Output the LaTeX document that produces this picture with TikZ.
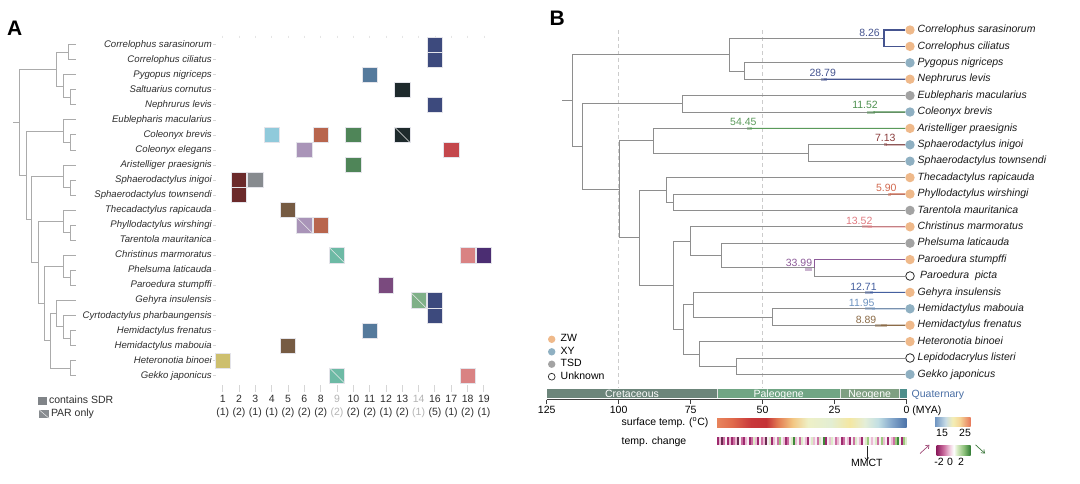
\documentclass[tikz,border=0pt]{standalone}
\usepackage{fontspec}
\setmainfont{Liberation Sans}
\usetikzlibrary{arrows.meta}
\definecolor{treeA}{HTML}{ABABAB}
\definecolor{treeB}{HTML}{8E8E8E}
\definecolor{txtA}{HTML}{2E2E2E}
\definecolor{txtB}{HTML}{1A1A1A}
\definecolor{lgray}{HTML}{B4B4B4}
\definecolor{tick}{HTML}{D6D6D6}
\definecolor{sqedge}{HTML}{E4E4EA}
% square colours
\definecolor{navy}{HTML}{3D4A7D}
\definecolor{steel}{HTML}{557A9C}
\definecolor{dark}{HTML}{1E2A2C}
\definecolor{lblue}{HTML}{90CADB}
\definecolor{orred}{HTML}{B8654D}
\definecolor{grn}{HTML}{4F8558}
\definecolor{lpurp}{HTML}{A994B8}
\definecolor{red}{HTML}{C4474C}
\definecolor{dred}{HTML}{6B2A2B}
\definecolor{gry}{HTML}{878B8F}
\definecolor{brown}{HTML}{765B43}
\definecolor{teal}{HTML}{6DBAA5}
\definecolor{pink}{HTML}{D98283}
\definecolor{dpurp}{HTML}{4B2D72}
\definecolor{purp}{HTML}{7A4A7E}
\definecolor{lgreen}{HTML}{7FB088}
\definecolor{olive}{HTML}{CDBF6E}
% tip colours
\definecolor{zw}{HTML}{EFB98A}
\definecolor{xy}{HTML}{8FB0C2}
\definecolor{tsd}{HTML}{A3A3A3}
% branch colours
\definecolor{cA}{HTML}{45548F}
\definecolor{cB}{HTML}{4E9150}
\definecolor{cC}{HTML}{5A9A5A}
\definecolor{cD}{HTML}{8B3C3C}
\definecolor{cE}{HTML}{D2694F}
\definecolor{cF}{HTML}{E07A80}
\definecolor{cG}{HTML}{8C5A98}
\definecolor{cH}{HTML}{45609F}
\definecolor{cI}{HTML}{6F94C0}
\definecolor{cJ}{HTML}{8B6B47}
% periods
\definecolor{cret}{HTML}{6C857A}
\definecolor{pale}{HTML}{70A584}
\definecolor{neog}{HTML}{7F9F82}
\definecolor{quat}{HTML}{4E8E8B}
\definecolor{quattxt}{HTML}{4A6FA5}
% stripes
\definecolor{tM}{HTML}{9E2A6E}
\definecolor{tm}{HTML}{CC6FA2}
\definecolor{tp}{HTML}{EBBCD4}
\definecolor{tw}{HTML}{F6EEF2}
\definecolor{tg}{HTML}{DCEBC8}
\definecolor{tG}{HTML}{9DC97F}
\definecolor{tD}{HTML}{3F8A3A}
\definecolor{tK}{HTML}{6B2950}
% shading stops
\definecolor{s0}{HTML}{E8845C}
\definecolor{s1}{HTML}{E06A4C}
\definecolor{s2}{HTML}{C8383A}
\definecolor{s3}{HTML}{C43236}
\definecolor{s4}{HTML}{E27A52}
\definecolor{s5}{HTML}{F3C783}
\definecolor{s6}{HTML}{EEF0C6}
\definecolor{s7}{HTML}{E3EED3}
\definecolor{s8}{HTML}{F4E7A2}
\definecolor{s9}{HTML}{E4EED8}
\definecolor{s10}{HTML}{C2DFE4}
\definecolor{s11}{HTML}{85A8CC}
\definecolor{s12}{HTML}{4B72A8}
\definecolor{l0}{HTML}{6F95C2}
\definecolor{l1}{HTML}{C9DDE6}
\definecolor{l2}{HTML}{F4EEB5}
\definecolor{l3}{HTML}{F5D596}
\definecolor{l4}{HTML}{E7775A}
\definecolor{k0}{HTML}{8E1F5F}
\definecolor{k1}{HTML}{C96A9C}
\definecolor{k2}{HTML}{F3D5E4}
\definecolor{k3}{HTML}{FFFFFF}
\definecolor{k4}{HTML}{D8EBC4}
\definecolor{k5}{HTML}{8CC07A}
\definecolor{k6}{HTML}{2F7A32}
\definecolor{arrm}{HTML}{A04A78}
\definecolor{arrg}{HTML}{3F7A3F}
\pgfdeclarehorizontalshading{sst}{100bp}{color(0bp)=(s0); color(25bp)=(s0); color(29bp)=(s1); color(34bp)=(s2); color(38bp)=(s3); color(41bp)=(s4); color(45bp)=(s5); color(49bp)=(s6); color(55bp)=(s7); color(60bp)=(s8); color(64bp)=(s9); color(67.5bp)=(s10); color(71bp)=(s11); color(75bp)=(s12); color(100bp)=(s12)}
\pgfdeclarehorizontalshading{sstleg}{100bp}{color(0bp)=(l0); color(25bp)=(l0); color(40bp)=(l1); color(50bp)=(l2); color(60bp)=(l3); color(75bp)=(l4); color(100bp)=(l4)}
\pgfdeclarehorizontalshading{chgleg}{100bp}{color(0bp)=(k0); color(25bp)=(k0); color(35bp)=(k1); color(45bp)=(k2); color(50bp)=(k3); color(55bp)=(k4); color(65bp)=(k5); color(75bp)=(k6); color(100bp)=(k6)}
\begin{document}
\begin{tikzpicture}[x=1pt,y=-1pt,
  lineA/.style={draw=treeA, line width=0.7pt},
  lineB/.style={draw=treeB, line width=0.75pt},
  spA/.style={font=\fontsize{9.6}{11}\selectfont\itshape, text=txtA, inner sep=0pt},
  spB/.style={font=\fontsize{10.5}{12}\selectfont\itshape, text=txtB, inner sep=0pt},
  lab/.style={font=\fontsize{10.5}{12}\selectfont, inner sep=0pt},
  sq/.style={rectangle, minimum size=15.3pt, inner sep=0pt, draw=sqedge, line width=0.5pt},
  tipc/.style={circle, minimum size=9.4pt, inner sep=0pt},
  legc/.style={circle, minimum size=7.4pt, inner sep=0pt},
  br/.style={line width=1.1pt},
  mk/.style={line width=3pt, opacity=0.45},
  panel/.style={font=\fontsize{21}{21}\selectfont\bfseries, inner sep=0pt, anchor=base west},
]
\useasboundingbox (0,0) rectangle (1080,483);
\fill[white] (0,0) rectangle (1080,483);

%================ PANEL A =================
\node[panel] (labA) at (7,35) {A};

% leaves
\foreach \i in {0,...,22} \coordinate (a\i) at (76,{44.5+15.05*\i});
% internal nodes
\coordinate (n01) at (68,52.0);
\coordinate (n34) at (70,97.2);
\coordinate (n234) at (63,85.9);
\coordinate (nTop) at (56,69.0);
\coordinate (n67) at (70,142.3);
\coordinate (nEub) at (63,131.0);
\coordinate (n910) at (70,187.5);
\coordinate (nAri) at (63,176.2);
\coordinate (n1213) at (70,232.6);
\coordinate (nThe) at (63,221.3);
\coordinate (n1516) at (70,277.8);
\coordinate (nChr) at (63,266.5);
\coordinate (n1920) at (70,338.0);
\coordinate (nCyr) at (63,326.7);
\coordinate (nGeh) at (56.7,313.5);
\coordinate (nHet) at (70,368.1);
\coordinate (nF) at (50,340.8);
\coordinate (nE) at (44,303.7);
\coordinate (nD) at (38,262.5);
\coordinate (nC) at (31.7,219.4);
\coordinate (nB) at (26,175.2);
\coordinate (rootA) at (19.3,122.1);
\coordinate (stubA) at (13,122.1);

\foreach \p/\c in {n01/a0,n01/a1,n34/a3,n34/a4,n234/a2,n234/n34,nTop/n01,nTop/n234,
  n67/a6,n67/a7,nEub/a5,nEub/n67,n910/a9,n910/a10,nAri/a8,nAri/n910,
  n1213/a12,n1213/a13,nThe/a11,nThe/n1213,n1516/a15,n1516/a16,nChr/a14,nChr/n1516,
  n1920/a19,n1920/a20,nCyr/a18,nCyr/n1920,nGeh/a17,nGeh/nCyr,nHet/a21,nHet/a22,
  nF/nGeh,nF/nHet,nE/nChr,nE/nF,nD/nThe,nD/nE,nC/nAri,nC/nD,nB/nEub,nB/nC,
  rootA/nTop,rootA/nB}
  \draw[lineA] (\p) |- (\c);
\draw[lineA] (stubA) -- (rootA);

% species names A
\foreach \i/\nm in {0/Correlophus sarasinorum,1/Correlophus ciliatus,2/Pygopus nigriceps,
  3/Saltuarius cornutus,4/Nephrurus levis,5/Eublepharis macularius,6/Coleonyx brevis,
  7/Coleonyx elegans,8/Aristelliger praesignis,9/Sphaerodactylus inigoi,
  10/Sphaerodactylus townsendi,11/Thecadactylus rapicauda,12/Phyllodactylus wirshingi,
  13/Tarentola mauritanica,14/Christinus marmoratus,15/Phelsuma laticauda,
  16/Paroedura stumpffi,17/Gehyra insulensis,18/Cyrtodactylus pharbaungensis,
  19/Hemidactylus frenatus,20/Hemidactylus mabouia,21/Heteronotia binoei,22/Gekko japonicus}
{
  \node[spA, anchor=mid east] (la\i) at (212,{44.5+15.05*\i}) {\nm};
  \draw[tick, line width=0.5pt] ([xshift=1pt]la\i.mid east) -- ++(3,0);
}

% faint top ticks and bottom ticks
\foreach \k in {0,...,16} {
  \draw[black!10, line width=0.6pt] ({222.7+16.33*\k},35.5) -- ++(0,2.5);
  \draw[tick, line width=1pt] ({222.7+16.33*\k},385) -- ++(0,7);
}

% squares
\foreach \r/\k/\c/\p in {0/13/navy/0,1/13/navy/0,2/9/steel/0,3/11/dark/0,4/13/navy/0,
  6/3/lblue/0,6/6/orred/0,6/8/grn/0,6/11/dark/1,7/5/lpurp/0,7/14/red/0,8/8/grn/0,
  9/1/dred/0,9/2/gry/0,10/1/dred/0,11/4/brown/0,12/5/lpurp/1,12/6/orred/0,
  14/7/teal/1,14/15/pink/0,14/16/dpurp/0,16/10/purp/0,17/12/lgreen/1,17/13/navy/0,
  18/13/navy/0,19/9/steel/0,20/4/brown/0,21/0/olive/0,22/7/teal/1,22/15/pink/0}
{
  \node[sq, fill=\c] (q\r-\k) at ({222.7+16.33*\k},{44.5+15.05*\r}) {};
  \ifnum\p=1
    \draw[white!85!gray, line width=0.5pt] ([shift={(0.6,0.6)}]q\r-\k.north west) -- ([shift={(-0.6,-0.6)}]q\r-\k.south east);
  \fi
}

% column labels
\foreach \k/\n/\m/\cl in {0/1/1/txtA,1/2/2/txtA,2/3/1/txtA,3/4/1/txtA,4/5/2/txtA,5/6/2/txtA,
  6/8/2/txtA,7/9/2/lgray,8/10/2/txtA,9/11/2/txtA,10/12/1/txtA,11/13/2/txtA,12/14/1/lgray,
  13/16/5/txtA,14/17/1/txtA,15/18/2/txtA,16/19/1/txtA}
{
  \node[lab, text=\cl, anchor=base] (cn\k) at ({222.7+16.33*\k},402.6) {\n};
  \node[lab, text=\cl, anchor=base] (cc\k) at ({222.7+16.33*\k},415.6) {(\m)};
}

% legend A
\node[rectangle, fill=gry!95!black, minimum width=9.3pt, minimum height=8.5pt, inner sep=0pt] (legSDR) at (42.7,400.8) {};
\node[lab, text=txtA, anchor=mid west] (legSDRt) at (48.8,400.5) {contains SDR};
\node[rectangle, fill=gry, minimum width=10pt, minimum height=8.5pt, inner sep=0pt] (legPAR) at (44.3,414.2) {};
\draw[white!85!gray, line width=0.5pt] (legPAR.north west) -- (legPAR.south east);
\node[lab, text=txtA, anchor=mid west] (legPARt) at (50.8,414) {PAR only};

%================ PANEL B =================
\node[panel] (labB) at (549.5,25) {B};

% dashed guides
\draw[black!20, line width=0.7pt, dash pattern=on 4pt off 3pt] (618.3,30) -- (618.3,388);
\draw[black!20, line width=0.7pt, dash pattern=on 4pt off 3pt] (762.3,30) -- (762.3,388);

% tips
\foreach \i in {0,...,21} \coordinate (tb\i) at (905.3,{30+16.4*\i});
% internal nodes
\coordinate (b01) at (884,38.2);
\coordinate (b23) at (744.3,71.0);
\coordinate (bA) at (729.3,54.6);
\coordinate (b45) at (682.3,103.8);
\coordinate (b78) at (808.3,153.0);
\coordinate (b6) at (653.3,140.7);
\coordinate (b1011) at (673.3,202.2);
\coordinate (b9) at (666.7,189.9);
\coordinate (b1415) at (814.3,267.8);
\coordinate (b13) at (721.7,255.5);
\coordinate (b12) at (690.7,241.15);
\coordinate (b1718) at (772.3,317.0);
\coordinate (b16) at (693.3,304.7);
\coordinate (b2021) at (736.7,366.2);
\coordinate (b19) at (699,353.9);
\coordinate (bG) at (683.3,329.3);
\coordinate (bF) at (673.3,285.2);
\coordinate (bE) at (639,237.55);
\coordinate (bD) at (619,189.1);
\coordinate (bC) at (582.3,146.45);
\coordinate (rootB) at (572.3,100.5);
\coordinate (stubB) at (562.3,100.5);

\foreach \p/\c in {b01/tb0,b01/tb1,b23/tb2,b23/tb3,bA/b01,bA/b23,b45/tb4,b45/tb5,
  b78/tb7,b78/tb8,b6/tb6,b6/b78,b1011/tb10,b1011/tb11,b9/tb9,b9/b1011,
  b1415/tb14,b1415/tb15,b13/tb13,b13/b1415,b12/tb12,b12/b13,b1718/tb17,b1718/tb18,
  b16/tb16,b16/b1718,b2021/tb20,b2021/tb21,b19/tb19,b19/b2021,bG/b16,bG/b19,
  bF/b12,bF/bG,bE/b9,bE/bF,bD/b6,bD/bE,bC/b45,bC/bD,rootB/bA,rootB/bC}
  \draw[lineB] (\p) |- (\c);
\draw[lineB] (stubB) -- (rootB);

% coloured branches
\coordinate (m826) at (881.5,38.2);
\draw[br, cA] (m826) -- (b01);
\draw[br, cA] (b01) |- (tb0);
\draw[br, cA] (b01) |- (tb1);
\coordinate (st3) at (823.8,79.2);
\draw[br, cA] (st3) -- (tb3);
\coordinate (st5) at (873.4,112);
\draw[br, cB] (st5) -- (tb5);
\coordinate (st6) at (750.1,128.4);
\draw[br, cC] (st6) -- (tb6);
\coordinate (st7) at (886,144.8);
\draw[br, cD] (st7) -- (tb7);
\coordinate (st10) at (889.6,194);
\draw[br, cE] (st10) -- (tb10);
\coordinate (st12) at (867.7,226.8);
\draw[br, cF] (st12) -- (tb12);
\draw[br, cG] (b1415) |- (tb14);
\coordinate (st16) at (870,292.4);
\draw[br, cH] (st16) -- (tb16);
\coordinate (st17) at (872.2,308.8);
\draw[br, cI] (st17) -- (tb17);
\coordinate (st18) at (881,325.2);
\draw[br, cJ] (st18) -- (tb18);

% interval markers
\draw[mk, cA] (820.5,79.2) -- (827,79.2);
\draw[mk, cB] (866.7,112) -- (875,112);
\draw[mk, cC] (746.7,128.4) -- (751.7,128.4);
\draw[mk, cD] (884,144.8) -- (887,144.8);
\draw[mk, cE] (888,194) -- (891,194);
\draw[mk, cF] (861.7,226.8) -- (871.7,226.8);
\draw[mk, cG] (805,269.3) -- (811.7,269.3);
\draw[mk, cH] (865,292.4) -- (872.7,292.4);
\draw[mk, cI] (865,308.8) -- (875,308.8);
\draw[mk, cJ] (875,325.2) -- (886.7,325.2);

% branch labels
\node[lab, text=cA, anchor=base] (l826) at (869.5,36.3) {8.26};
\node[lab, text=cA, anchor=base] (l2879) at (822.7,76.8) {28.79};
\node[lab, text=cB, anchor=base] (l1152) at (865,108.9) {11.52};
\node[lab, text=cC, anchor=base] (l5445) at (743.3,125.6) {54.45};
\node[lab, text=cD, anchor=base] (l713) at (885.3,141.6) {7.13};
\node[lab, text=cE, anchor=base] (l590) at (886.3,191.8) {5.90};
\node[lab, text=cF, anchor=base] (l1352) at (859.2,224.3) {13.52};
\node[lab, text=cG, anchor=base] (l3399) at (799,266.3) {33.99};
\node[lab, text=cH, anchor=base] (l1271) at (863.5,290.3) {12.71};
\node[lab, text=cI, anchor=base] (l1195) at (861.7,306.8) {11.95};
\node[lab, text=cJ, anchor=base] (l889) at (866,323.6) {8.89};

% tip circles and names
\foreach \i/\c/\nm in {0/zw/Correlophus sarasinorum,1/zw/Correlophus ciliatus,2/xy/Pygopus nigriceps,
  3/zw/Nephrurus levis,4/tsd/Eublepharis macularius,5/xy/Coleonyx brevis,
  6/zw/Aristelliger praesignis,7/xy/Sphaerodactylus inigoi,8/xy/Sphaerodactylus townsendi,
  9/zw/Thecadactylus rapicauda,10/zw/Phyllodactylus wirshingi,11/tsd/Tarentola mauritanica,
  12/zw/Christinus marmoratus,13/tsd/Phelsuma laticauda,14/zw/Paroedura stumpffi,
  16/zw/Gehyra insulensis,17/xy/Hemidactylus mabouia,18/zw/Hemidactylus frenatus,
  19/zw/Heteronotia binoei,21/xy/Gekko japonicus}
{
  \node[tipc, fill=\c] (cb\i) at (910,{30+16.4*\i}) {};
  \node[spB, anchor=mid west] (nb\i) at (917.5,{30+16.4*\i}) {\nm};
}
\node[tipc, fill=white, draw=black!85, line width=0.8pt, minimum size=8.6pt] (cb15) at (910,276) {};
\node[spB, anchor=mid west] (nb15) at (920,276) {Paroedura\ \ picta};
\node[tipc, fill=white, draw=black!85, line width=0.8pt, minimum size=8.6pt] (cb20) at (910,358) {};
\node[spB, anchor=mid west] (nb20) at (917.5,358) {Lepidodacrylus listeri};

% legend B
\node[legc, fill=zw] (lzw) at (551.7,339.3) {};
\node[lab, anchor=mid west] (lzwt) at (560.5,339.3) {ZW};
\node[legc, fill=xy] (lxy) at (551.7,351.8) {};
\node[lab, anchor=mid west] (lxyt) at (560.5,351.8) {XY};
\node[legc, fill=tsd] (ltsd) at (551.7,364.2) {};
\node[lab, anchor=mid west] (ltsdt) at (560.5,364.2) {TSD};
\node[legc, fill=white, draw=black!85, line width=0.7pt, minimum size=6.8pt] (lun) at (551.7,376.7) {};
\node[lab, anchor=mid west] (lunt) at (560.5,376.7) {Unknown};

% geological time bar
\fill[cret] (546.7,389) rectangle (717,398);
\fill[pale] (717,389) rectangle (840.4,398);
\fill[neog] (840.4,389) rectangle (899,398);
\fill[quat] (899,389) rectangle (906.5,398);
\draw[white!80!gray, line width=0.4pt] (717,389) -- (717,398) (840.4,389) -- (840.4,398) (899,389) -- (899,398);
\node[lab, text=white, anchor=base] (pCret) at (632,397.2) {Cretaceous};
\node[lab, text=white, anchor=base] (pPale) at (778.7,397.2) {Paleogene};
\node[lab, text=white, anchor=base] (pNeo) at (869.7,397.2) {Neogene};
\node[lab, text=quattxt, anchor=base west] (pQuat) at (911.5,397.2) {Quaternary};

% axis
\draw[black!75, line width=0.7pt] (546.7,399.8) -- (906.5,399.8);
\foreach \t/\lbl in {125/125,100/100,75/75,50/50,25/25}
{
  \draw[black!75, line width=0.7pt] ({906.5-2.8784*\t},399.8) -- ++(0,4);
  \node[lab, anchor=base] (ax\t) at ({906.5-2.8784*\t},413.8) {\lbl};
}
\draw[black!75, line width=0.7pt] (906.5,399.8) -- ++(0,4);
\node[lab, anchor=base west] (ax0) at (903.4,413.8) {0 (MYA)};

% surface temperature bar
\node[lab, anchor=mid west] (stl) at (621.5,423.3) {surface temp. (\textsuperscript{o}C)};
\shade[shading=sst] (717,418.3) rectangle (906.5,427.3);

% temperature change stripes
\node[lab, anchor=mid west] (tcl) at (621.5,441.5) {temp. change};
\foreach \c [count=\i from 0] in {tM,tp,tK,tm,tw,tM,tp,tM,tm,tp,
  tK,tw,tm,tM,tp,tw,tM,tm,tg,tp,
  tM,tw,tm,tp,tK,tw,tg,tM,tp,tw,
  tm,tG,tw,tp,tM,tm,tw,tg,tD,tp,
  tw,tm,tg,tw,tp,tM,tw,tg,tp,tw,
  tm,tg,tw,tD,tM,tw,tp,tg,tw,tm,
  tp,tw,tM,tm,tw,tp,tM,tw,tm,tg,
  tw,tp,tM,tw,tg,tG,tw,tp,tw,tg,
  tm,tw,tG,tp,tw,tM,tw,tp,tm,tG,
  tD,tw,tM,tG,tg}
  \fill[\c] ({717+1.995*\i},436.8) rectangle ++(1.995,8.4);

% MMCT
\coordinate (mmctTop) at (866.8,445.8);
\node[lab, anchor=base] (mmct) at (866.8,466.5) {MMCT};
\draw[black!85, line width=0.6pt, -{Straight Barb[length=2.5pt,width=4pt]}] (mmctTop) -- ([yshift=-1.5pt]mmct.north);

% legends for the bars
\shade[shading=sstleg] (935,417.3) rectangle (970.7,426.7);
\node[lab, anchor=base] (lg15) at (942,436.8) {15};
\node[lab, anchor=base] (lg25) at (965,436.8) {25};
\shade[shading=chgleg] (936.7,445) rectangle (970.7,455.7);
\node[lab, anchor=base] (lgm2) at (939,465) {-2};
\node[lab, anchor=base] (lg0) at (950,465) {0};
\node[lab, anchor=base] (lg2) at (961,465) {2};
\coordinate (au0) at (920,453.5);
\coordinate (au1) at (929.5,444.8);
\draw[arrm, line width=0.7pt, -{Straight Barb[length=3pt,width=4.5pt]}] (au0) -- (au1);
\coordinate (ad0) at (975.5,444.8);
\coordinate (ad1) at (985,453.5);
\draw[arrg, line width=0.7pt, -{Straight Barb[length=3pt,width=4.5pt]}] (ad0) -- (ad1);
\end{tikzpicture}
\end{document}
